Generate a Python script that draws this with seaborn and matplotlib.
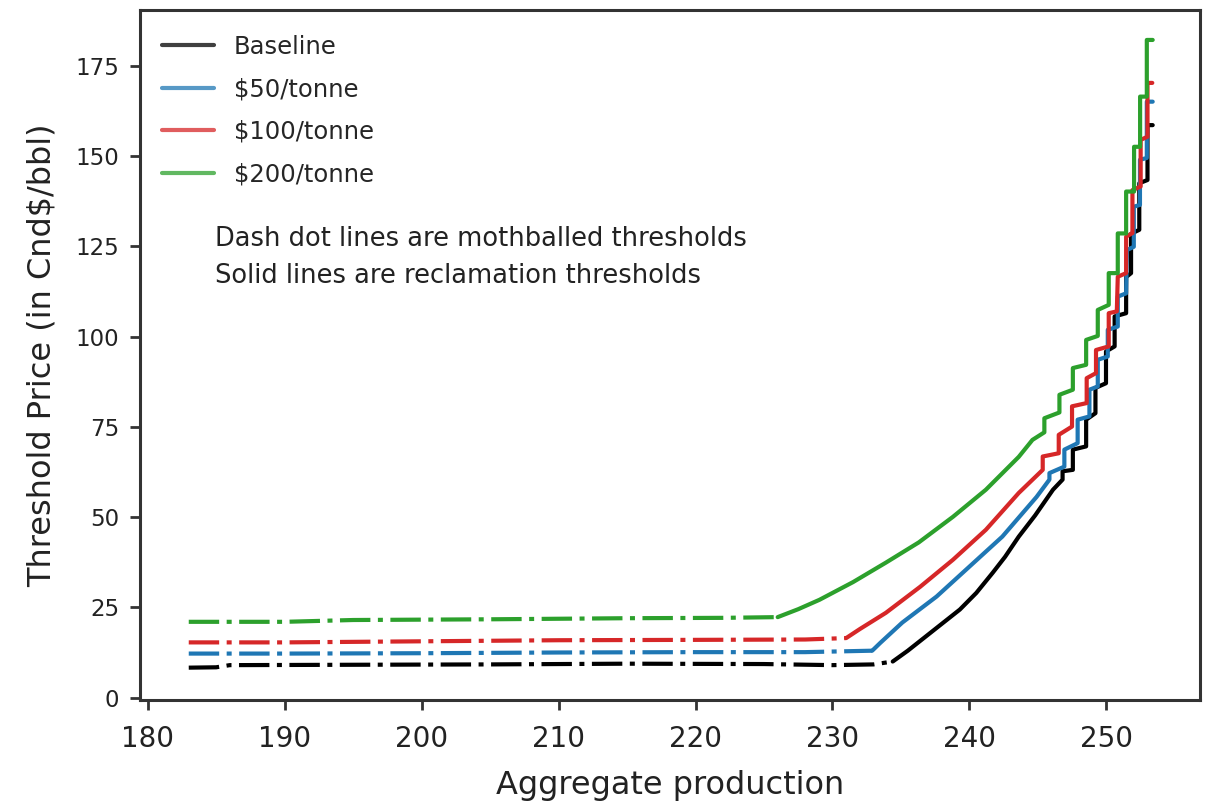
import matplotlib
matplotlib.use("Agg")
import matplotlib.pyplot as plt
from matplotlib.lines import Line2D
import seaborn as sns
import pandas as pd

sns.set_style("ticks")
plt.rcParams["font.family"] = ["DejaVu Sans"]

scenarios = ["Baseline", "$50/tonne", "$100/tonne", "$200/tonne"]
colors = ["#000000", "#1f77b4", "#d62728", "#2ca02c"]

# Mothballed thresholds (flat, dash-dot)
moth_x_base = [183.0, 185.0, 186.0, 195.0, 205.0, 215.0, 225.0, 230.0, 233.0, 234.4]
moth_y_base = [8.3, 8.4, 9.0, 9.1, 9.2, 9.4, 9.3, 9.0, 9.2, 10.0]
moth_x_50 = [183.0, 190.0, 200.0, 210.0, 220.0, 228.0, 232.9]
moth_y_50 = [12.2, 12.2, 12.3, 12.5, 12.6, 12.6, 13.0]
moth_x_100 = [183.0, 190.0, 200.0, 210.0, 220.0, 228.0, 231.0]
moth_y_100 = [15.3, 15.3, 15.6, 15.9, 16.0, 16.1, 16.5]
moth_x_200 = [183.0, 190.0, 195.0, 205.0, 215.0, 222.0, 226.0]
moth_y_200 = [21.0, 21.0, 21.5, 21.7, 22.0, 22.1, 22.3]

# Reclamation thresholds (rising, solid; stepped at high production)
recl_x_base = [234.4, 235.5, 237.0, 238.0, 239.3, 240.5, 241.7, 242.6, 243.6, 244.8,
               246.1, 246.8, 246.8, 247.55, 247.55, 248.52, 248.52, 249.2, 249.2,
               249.97, 249.97, 250.6, 250.6, 251.44, 251.44, 251.8, 251.8, 252.4,
               252.4, 253.0, 253.0, 253.38]
recl_y_base = [10.0, 13.0, 17.5, 20.5, 24.4, 29.0, 34.6, 39.0, 44.6, 50.5,
               57.6, 60.4, 62.7, 63.1, 68.7, 69.6, 77.0, 78.8, 85.8,
               87.1, 95.9, 97.3, 105.6, 106.5, 116.5, 117.6, 128.5, 129.6,
               142.5, 143.4, 158.6, 158.6]
recl_x_50 = [232.9, 233.5, 235.1, 237.6, 240.0, 242.4, 244.9, 245.84, 245.84, 246.93,
             246.93, 247.9, 247.9, 248.76, 248.76, 249.37, 249.37, 250.1, 250.1,
             250.83, 250.83, 251.44, 251.5, 252.0, 252.0, 252.45, 252.45, 252.95,
             252.95, 253.38]
recl_y_50 = [13.0, 15.2, 20.8, 28.0, 36.3, 44.6, 55.6, 60.4, 62.2, 64.0,
             68.7, 70.5, 77.0, 77.9, 85.3, 86.2, 93.6, 94.5, 101.9,
             102.8, 111.1, 112.0, 124.0, 124.9, 136.0, 136.5, 149.0, 149.5,
             165.1, 165.1]
recl_x_100 = [231.0, 232.0, 233.9, 236.4, 238.8, 241.2, 243.6, 245.35, 245.35, 246.52,
              246.52, 247.49, 247.49, 248.56, 248.56, 249.24, 249.24, 250.17, 250.17,
              250.76, 250.83, 251.44, 251.44, 251.9, 251.9, 252.5, 252.5, 253.0,
              253.0, 253.35]
recl_y_100 = [16.5, 19.0, 23.5, 30.7, 38.2, 46.5, 56.7, 63.1, 66.8, 67.7,
              72.8, 75.1, 80.7, 81.6, 88.5, 89.9, 96.3, 97.3, 106.5,
              107.0, 116.6, 117.6, 127.7, 128.7, 140.6, 141.6, 154.5, 155.4,
              170.3, 170.3]
recl_x_200 = [226.0, 227.5, 229.05, 231.5, 233.9, 236.3, 238.8, 241.2, 243.6, 244.6,
              245.47, 245.47, 246.57, 246.57, 247.55, 247.55, 248.52, 248.52, 249.37,
              249.37, 250.17, 250.17, 250.83, 250.83, 251.44, 251.44, 252.02, 252.02,
              252.46, 252.46, 252.95, 252.95, 253.38]
recl_y_200 = [22.3, 24.5, 27.1, 32.0, 37.4, 43.0, 50.1, 57.6, 66.7, 71.4,
              73.5, 77.4, 79.0, 83.9, 85.3, 91.3, 92.2, 99.1, 100.2,
              107.4, 108.8, 117.6, 117.6, 128.6, 128.6, 140.2, 140.2, 152.6,
              152.6, 166.5, 166.5, 182.2, 182.2]

moth = [(moth_x_base, moth_y_base), (moth_x_50, moth_y_50),
        (moth_x_100, moth_y_100), (moth_x_200, moth_y_200)]
recl = [(recl_x_base, recl_y_base), (recl_x_50, recl_y_50),
        (recl_x_100, recl_y_100), (recl_x_200, recl_y_200)]

fig = plt.figure(figsize=(12.08, 8.02), dpi=100)
ax = fig.add_axes([0.116, 0.127, 0.877, 0.861])

dashdot = (0, (7.3, 1.8, 1.2, 1.8))
lw = 3.0
for name, color, (mx, my), (rx, ry) in zip(scenarios, colors, moth, recl):
    dm = pd.DataFrame({"production": mx, "price": my})
    dr = pd.DataFrame({"production": rx, "price": ry})
    sns.lineplot(data=dm, x="production", y="price", ax=ax, color=color,
                 linewidth=lw, linestyle=dashdot, sort=False, estimator=None)
    sns.lineplot(data=dr, x="production", y="price", ax=ax, color=color,
                 linewidth=lw, sort=False, estimator=None)

ax.set_xticks([180, 190, 200, 210, 220, 230, 240, 250])
ax.set_yticks([0, 25, 50, 75, 100, 125, 150, 175])
ax.set_xlim(179.45, 256.8)
ax.set_ylim(-0.7, 190.6)

ax.set_xlabel("Aggregate production", fontsize=23, color="#222222", labelpad=12)
ax.set_ylabel("Threshold Price (in Cnd$/bbl)", fontsize=23, color="#222222", labelpad=13)
ax.tick_params(axis="x", labelsize=20, length=7, width=2, color="#333333",
               labelcolor="#222222", pad=11)
ax.tick_params(axis="y", labelsize=16.5, length=7, width=2, color="#333333",
               labelcolor="#222222", pad=8)
for sp in ax.spines.values():
    sp.set_visible(True)
    sp.set_linewidth(2.2)
    sp.set_color("#333333")

handles = [Line2D([0], [0], color=c, lw=lw, alpha=0.75) for c in colors]
ax.legend(handles, [s.replace("$", r"\$") for s in scenarios], loc="upper left",
          frameon=False, fontsize=17.5, handlelength=2.15, handletextpad=0.8,
          labelspacing=0.76, borderaxespad=0.5, bbox_to_anchor=(0.0, 0.995))

ax.text(0.071, 0.641, "Dash dot lines are mothballed thresholds\nSolid lines are reclamation thresholds",
        transform=ax.transAxes, fontsize=18.5, color="#222222", va="center",
        ha="left", linespacing=1.54)

fig.savefig("out.png", dpi=100)
